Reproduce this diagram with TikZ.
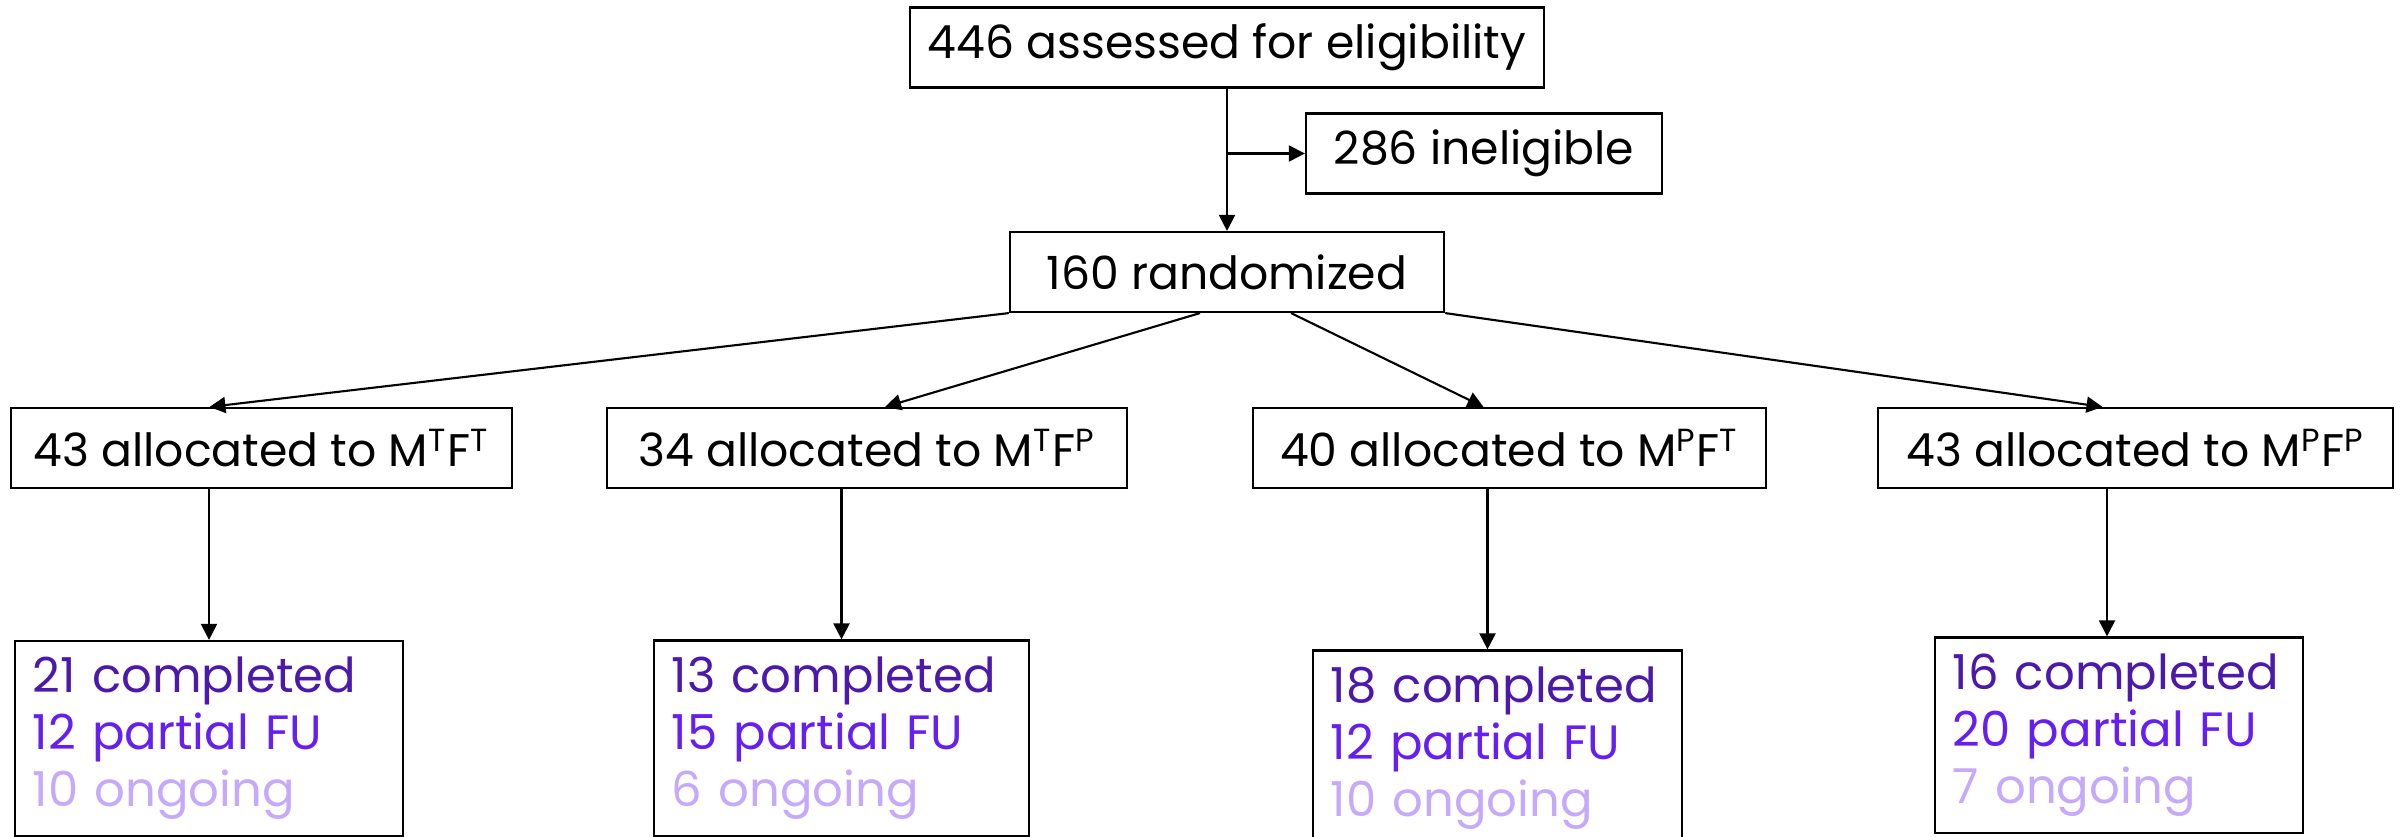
\documentclass[tikz,border=0pt]{standalone}
\usepackage{fontspec}
\setmainfont{Poppins}
\usetikzlibrary{
		arrows.meta
	}
\tikzset{
		>={Triangle[length=0.16cm,width=0.16cm]},
		box/.style={draw, line width=0.6pt, minimum width=#1, minimum height=0.8cm,
			inner xsep=0.1cm, inner ysep=0pt, font=\fontsize{13pt}{16.2pt}\selectfont},
		resbox/.style={draw, line width=0.6pt, text width=#1, align=left,
			inner xsep=0.18cm, inner ysep=0pt, minimum height=1.95cm,
			font=\fontsize{13.7pt}{16.2pt}\selectfont},
		arr/.style={->, line width=0.6pt}
	}
\definecolor{donecol}{RGB}{76,26,170}
\definecolor{partcol}{RGB}{101,31,240}
\definecolor{ongocol}{RGB}{198,170,250}

\begin{document}
\begin{tikzpicture}[x=0.01cm, y=-0.01cm]
\useasboundingbox (0,0) rectangle (2404,836);
\node[box=6.33cm] (assess) at (1227,47.5) {446 assessed for eligibility};
\node[box=3.56cm] (inelig) at (1484,153.5) {286 ineligible};
\node[box=4.34cm] (random) at (1227,272) {160 randomized};
\node[box=5.01cm] (mtft) at (261.5,448) {43 allocated to M\textsuperscript{T}F\textsuperscript{T}};
\node[box=5.20cm] (mtfp) at (867,448) {34 allocated to M\textsuperscript{T}F\textsuperscript{P}};
\node[box=5.13cm] (mpft) at (1509.5,448) {40 allocated to M\textsuperscript{P}F\textsuperscript{T}};
\node[box=5.15cm] (mpfp) at (2135.5,448) {43 allocated to M\textsuperscript{P}F\textsuperscript{P}};
\node[resbox=3.52cm] (outtt) at (209,738.5) {\color{donecol}21 completed\\\color{partcol}12 partial FU\\\color{ongocol}10 ongoing};
\node[resbox=3.39cm] (outtp) at (841.5,738) {\color{donecol}13 completed\\\color{partcol}15 partial FU\\\color{ongocol}6 ongoing};
\node[resbox=3.33cm] (outpt) at (1497.5,748) {\color{donecol}18 completed\\\color{partcol}12 partial FU\\\color{ongocol}10 ongoing};
\node[resbox=3.32cm] (outpp) at (2119,735) {\color{donecol}16 completed\\\color{partcol}20 partial FU\\\color{ongocol}7 ongoing};
% screening
\draw[arr] (assess) -- (random);
\draw[arr] (assess.south |- inelig.west) -- (inelig.west);
% allocation
\draw[arr] (random.south west) -- ([xshift=-0.52cm]mtft.north);
\draw[arr] ([xshift=-0.27cm]random.south) -- ([xshift=0.18cm]mtfp.north);
\draw[arr] ([xshift=0.64cm]random.south) -- ([xshift=-0.26cm]mpft.north);
\draw[arr] (random.south east) -- ([xshift=-0.33cm]mpfp.north);
% follow-up
\draw[arr] (mtft.south -| outtt.north) -- (outtt.north);
\draw[arr] (mtfp.south -| outtp.north) -- (outtp.north);
\draw[arr] ([xshift=-0.1cm]mpft.south -| outpt.north) -- ([xshift=-0.1cm]outpt.north);
\draw[arr] ([xshift=-0.12cm]mpfp.south -| outpp.north) -- ([xshift=-0.12cm]outpp.north);
\end{tikzpicture}
\end{document}
